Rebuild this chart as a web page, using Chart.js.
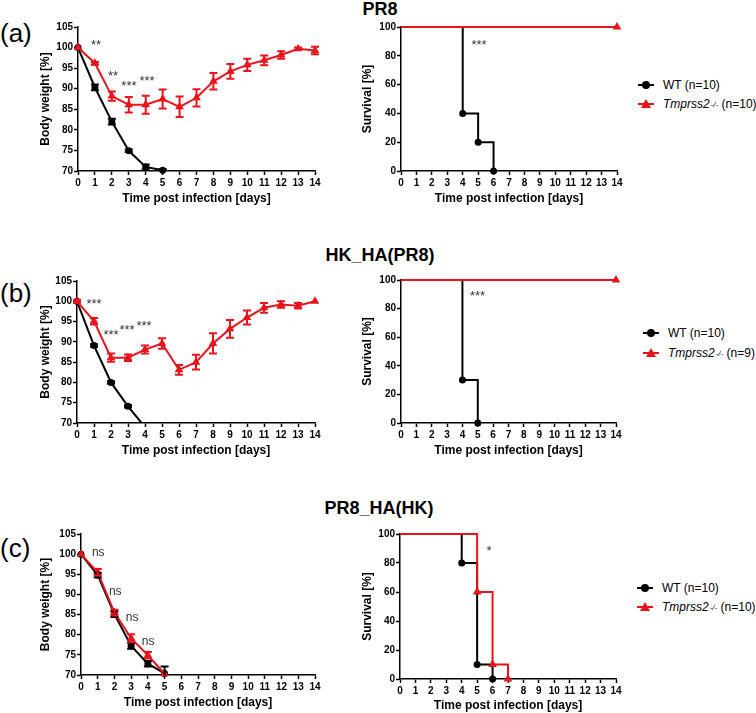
<!DOCTYPE html>
<html><head><meta charset="utf-8">
<script src="https://cdn.jsdelivr.net/npm/chart.js@4.4.1/dist/chart.umd.min.js"></script>
<style>
html,body{margin:0;padding:0;background:#fff;overflow:hidden;width:756px;height:713px;}
canvas{position:absolute;}
.title{position:absolute;font:bold 18px "Liberation Sans",Arial,sans-serif;color:#000;transform:translate(-50%,-50%);white-space:nowrap;}
.panel{position:absolute;left:0;font:26px "Liberation Sans",Arial,sans-serif;color:#000;transform:translateY(-50%);}
.row{position:absolute;display:flex;align-items:center;white-space:nowrap;transform:translateY(-50%);font:12px "Liberation Sans",Arial,sans-serif;color:#000;}
.sym{position:relative;width:16px;height:10px;margin-right:9px;}
.ln{position:absolute;left:0;right:0;top:4px;height:2px;}
.dot{position:absolute;left:4px;top:1px;width:8px;height:8px;border-radius:50%;background:#000;}
.tri{position:absolute;left:3px;top:0;width:0;height:0;border-left:5px solid transparent;border-right:5px solid transparent;border-bottom:9px solid #e8141c;}
sup{font-size:8px;vertical-align:5px;margin-left:1px;}
</style></head>
<body>
<div class="panel" style="top:33px">(a)</div>
<div class="panel" style="top:293px">(b)</div>
<div class="panel" style="top:548px">(c)</div>
<div class="title" style="left:380px;top:9px">PR8</div>
<div class="title" style="left:380px;top:255px">HK_HA(PR8)</div>
<div class="title" style="left:379px;top:508px">PR8_HA(HK)</div>

<canvas id="wA"></canvas><canvas id="sA"></canvas>
<canvas id="wB"></canvas><canvas id="sB"></canvas>
<canvas id="wC"></canvas><canvas id="sC"></canvas>

<div class="row" style="left:638px;top:85px"><span class="sym"><span class="ln" style="background:#000"></span><span class="dot"></span></span>WT (n=10)</div>
<div class="row" style="left:638px;top:104px"><span class="sym"><span class="ln" style="background:#e8141c"></span><span class="tri"></span></span><i>Tmprss2</i><sup><i>-/-</i></sup>&nbsp;(n=10)</div>
<div class="row" style="left:643px;top:333px"><span class="sym"><span class="ln" style="background:#000"></span><span class="dot"></span></span>WT (n=10)</div>
<div class="row" style="left:643px;top:353px"><span class="sym"><span class="ln" style="background:#e8141c"></span><span class="tri"></span></span><i>Tmprss2</i><sup><i>-/-</i></sup>&nbsp;(n=9)</div>
<div class="row" style="left:637px;top:588px"><span class="sym"><span class="ln" style="background:#000"></span><span class="dot"></span></span>WT (n=10)</div>
<div class="row" style="left:637px;top:607px"><span class="sym"><span class="ln" style="background:#e8141c"></span><span class="tri"></span></span><i>Tmprss2</i><sup><i>-/-</i></sup>&nbsp;(n=10)</div>

<script>
// ---------- data ----------
const days = [0,1,2,3,4,5,6,7,8,9,10,11,12,13,14];
const weightTicks = [70,75,80,85,90,95,100,105];
const survivalTicks = [0,20,40,60,80,100];

// (a) PR8
const wtWeightA = [100, 90.3, 82.0, 74.9, 71.0, 70.2];
const wtWeightErrA = [0, 0.7, 0.7, 0.3, 0.6, 0.3];
const koWeightA = [100, 96.2, 88.2, 86.1, 86.1, 87.5, 85.6, 87.8, 91.8, 94.2, 95.8, 96.9, 98.2, 99.7, 99.3];
const koWeightErrA = [0.2, 0.3, 1.1, 1.9, 2.2, 2.3, 2.5, 2.1, 2.0, 1.8, 1.5, 1.2, 0.9, 0.3, 0.9];
const wtSurvDaysA = [0, 4, 5, 6];
const wtSurvA = [100, 40, 20, 0];
const koSurvDaysA = [0, 14];
const koSurvA = [100, 100];
const sigWeightA = ['**', '**', '***', '***'];
const sigSurvA = ['***'];

// (b) HK_HA(PR8)
const wtWeightB = [100, 89.1, 80.0, 74.1, 69.0];
const wtWeightErrB = [0, 0.3, 0.3, 0.3, 0];
const koWeightB = [100, 95.1, 86.1, 86.1, 88.1, 89.6, 83.1, 85.0, 89.6, 93.2, 96.0, 98.4, 99.2, 98.9, 100];
const koWeightErrB = [0.3, 0.8, 1.0, 0.8, 1.0, 1.3, 1.2, 1.8, 2.5, 2.2, 1.7, 1.2, 0.8, 0.7, 0.2];
const wtSurvDaysB = [0, 4, 5];
const wtSurvB = [100, 30, 0];
const koSurvDaysB = [0, 14];
const koSurvB = [100, 100];
const sigWeightB = ['***', '***', '***', '***'];
const sigSurvB = ['***'];

// (c) PR8_HA(HK)
const wtWeightC = [100, 94.8, 85.1, 77.2, 72.8, 70.4];
const wtWeightErrC = [0, 0.6, 0.7, 0.7, 0.7, 1.7];
const koWeightC = [100, 95.5, 85.5, 79.1, 74.9, 70.3];
const koWeightErrC = [0, 0.8, 0.7, 1.0, 0.8, 0];
const wtSurvDaysC = [0, 4, 5, 6];
const wtSurvC = [100, 80, 10, 0];
const koSurvDaysC = [0, 5, 6, 7];
const koSurvC = [100, 60, 10, 0];
const sigWeightC = ['ns', 'ns', 'ns', 'ns'];
const sigSurvC = ['*'];

// ---------- helpers ----------
const RED = '#e8141c', BLK = '#000000';
const FONT = '"Liberation Sans", Arial, sans-serif';
const pts = (xs, ys) => ys.map((v, i) => ({x: xs[i], y: v}));

const errorBars = {
  id: 'errorBars',
  afterDatasetsDraw(chart) {
    const {ctx, chartArea} = chart;
    const ys = chart.scales.y;
    ctx.save();
    ctx.beginPath();
    ctx.rect(chartArea.left - 10, chartArea.top - 10, chartArea.right - chartArea.left + 20, chartArea.bottom - chartArea.top + 10);
    ctx.clip();
    for (let i = chart.data.datasets.length - 1; i >= 0; i--) {
      const ds = chart.data.datasets[i];
      if (!ds.errors) continue;
      const meta = chart.getDatasetMeta(i);
      ctx.strokeStyle = ds.borderColor;
      ctx.lineWidth = 2;
      meta.data.forEach((el, j) => {
        const e = ds.errors[j];
        if (!e || e < 0.25) return;
        const v = ds.data[j].y;
        const x = el.x;
        const yt = ys.getPixelForValue(v + e), yb = ys.getPixelForValue(v - e);
        ctx.beginPath();
        ctx.moveTo(x, yt); ctx.lineTo(x, yb);
        ctx.moveTo(x - 4, yt); ctx.lineTo(x + 4, yt);
        ctx.moveTo(x - 4, yb); ctx.lineTo(x + 4, yb);
        ctx.stroke();
      });
    }
    ctx.restore();
  }
};

function notesPlugin(notes) {
  return {
    id: 'notes',
    afterDraw(chart) {
      const {ctx, scales: {x, y}} = chart;
      ctx.save();
      ctx.fillStyle = '#333';
      ctx.textAlign = 'center';
      ctx.textBaseline = 'middle';
      notes.forEach(n => {
        const star = n.t.indexOf('*') >= 0;
        const size = star ? 13 : 12;
        ctx.font = size + 'px ' + FONT;
        ctx.fillText(n.t, x.getPixelForValue(n.x), y.getPixelForValue(n.y) + (star ? size * 0.25 : 0));
      });
      ctx.restore();
    }
  };
}

function place(id, box) {
  const c = document.getElementById(id);
  c.width = box.w; c.height = box.h;
  c.style.left = box.l + 'px'; c.style.top = box.t + 'px';
  c.style.width = box.w + 'px'; c.style.height = box.h + 'px';
  return c;
}

function scales(o) {
  return {
    x: {
      type: 'linear', min: 0, max: 14,
      afterBuildTicks: s => { s.ticks = days.map(v => ({value: v})); },
      ticks: {autoSkip: false, maxRotation: 0, padding: 2, color: '#000', font: {family: FONT, size: 10, weight: 'bold'}},
      grid: {drawOnChartArea: false, drawTicks: true, tickLength: 4, tickWidth: 1.5, tickColor: '#000'},
      border: {color: '#000', width: 1.5},
      title: {display: true, text: 'Time post infection [days]', color: '#000', font: {family: FONT, size: 12, weight: 'bold'}, padding: {top: 0, bottom: o.xPad}},
      afterFit: s => { s.height = o.xH; }
    },
    y: {
      type: 'linear', min: o.yTicks[0], max: o.yTicks[o.yTicks.length - 1],
      afterBuildTicks: s => { s.ticks = o.yTicks.map(v => ({value: v})); },
      ticks: {autoSkip: false, padding: 1, color: '#000', font: {family: FONT, size: 10, weight: 'bold'}},
      grid: {drawOnChartArea: false, drawTicks: true, tickLength: 4, tickWidth: 1.5, tickColor: '#000'},
      border: {color: '#000', width: 1.5},
      title: {display: true, text: o.yTitle, color: '#000', font: {family: FONT, size: 12, weight: 'bold'}, padding: {top: o.yPad, bottom: 0}},
      afterFit: s => { s.width = o.yW; }
    }
  };
}

function commonOptions(o) {
  return {
    responsive: false, animation: false, devicePixelRatio: 1,
    layout: {padding: {top: 10, right: 15, left: 0, bottom: 0}},
    plugins: {legend: {display: false}, tooltip: {enabled: false}},
    scales: scales(o)
  };
}

function weightChart(id, box, yW, wt, wtErr, ko, koErr, notes) {
  place(id, box);
  new Chart(document.getElementById(id), {
    type: 'line',
    data: {datasets: [
      {data: pts(days, ko), errors: koErr, borderColor: RED, backgroundColor: RED, borderWidth: 2,
       pointStyle: 'triangle', pointRadius: 5, pointBorderWidth: 0, clip: {left: 10, right: 10, top: 10, bottom: 6}},
      {data: pts(days, wt), errors: wtErr, borderColor: BLK, backgroundColor: BLK, borderWidth: 2,
       pointStyle: 'circle', pointRadius: wt.map(v => v < 70 ? 0 : 3.5), pointBorderWidth: 0,
       clip: {left: 10, right: 10, top: 10, bottom: wt[wt.length - 1] < 70 ? 0 : 6}}
    ]},
    options: commonOptions({yTicks: weightTicks, yTitle: 'Body weight [%]', yW: yW, yPad: 8, xH: 38, xPad: 3}),
    plugins: [errorBars, notesPlugin(notes)]
  });
}

function survivalChart(id, box, yW, xH, xPad, wtX, wt, koX, ko, notes) {
  place(id, box);
  new Chart(document.getElementById(id), {
    type: 'line',
    data: {datasets: [
      {data: pts(koX, ko), borderColor: RED, backgroundColor: RED, borderWidth: 2, stepped: 'before',
       pointStyle: 'triangle', pointRadius: ko.map((v, i) => i === 0 ? 0 : 5), pointBorderWidth: 0,
       clip: {left: 10, right: 10, top: 10, bottom: 6}},
      {data: pts(wtX, wt), borderColor: BLK, backgroundColor: BLK, borderWidth: 2, stepped: 'before',
       pointStyle: 'circle', pointRadius: wt.map((v, i) => i === 0 ? 0 : 3.5), pointBorderWidth: 0,
       clip: {left: 10, right: 10, top: 10, bottom: 6}}
    ]},
    options: commonOptions({yTicks: survivalTicks, yTitle: 'Survival [%]', yW: yW, yPad: 5, xH: xH, xPad: xPad}),
    plugins: [notesPlugin(notes)]
  });
}

// ---------- charts ----------
weightChart('wA', {l: 30, t: 17, w: 300, h: 192}, 48, wtWeightA, wtWeightErrA, koWeightA, koWeightErrA, [
  {t: sigWeightA[0], x: 1.06, y: 101.4}, {t: sigWeightA[1], x: 2.07, y: 93.8},
  {t: sigWeightA[2], x: 3.01, y: 91.4}, {t: sigWeightA[3], x: 4.08, y: 92.6}]);
survivalChart('sA', {l: 355, t: 17, w: 277, h: 192}, 46, 38, 3, wtSurvDaysA, wtSurvA, koSurvDaysA, koSurvA, [
  {t: sigSurvA[0], x: 5.06, y: 89.6}]);

weightChart('wB', {l: 30, t: 271, w: 300, h: 190}, 47, wtWeightB, wtWeightErrB, koWeightB, koWeightErrB, [
  {t: sigWeightB[0], x: 1.0, y: 100.1}, {t: sigWeightB[1], x: 2.0, y: 92.5},
  {t: sigWeightB[2], x: 2.94, y: 93.7}, {t: sigWeightB[3], x: 3.94, y: 94.7}]);
survivalChart('sB', {l: 355, t: 270, w: 276, h: 191}, 46, 38, 3, wtSurvDaysB, wtSurvB, koSurvDaysB, koSurvB, [
  {t: sigSurvB[0], x: 4.98, y: 91.1}]);

weightChart('wC', {l: 30, t: 524, w: 300, h: 189}, 51, wtWeightC, wtWeightErrC, koWeightC, koWeightErrC, [
  {t: sigWeightC[0], x: 1.03, y: 100.3}, {t: sigWeightC[1], x: 2.05, y: 90.6},
  {t: sigWeightC[2], x: 3.06, y: 84.2}, {t: sigWeightC[3], x: 4.02, y: 78.2}]);
survivalChart('sC', {l: 355, t: 524, w: 276, h: 189}, 45, 34, 0, wtSurvDaysC, wtSurvC, koSurvDaysC, koSurvC, [
  {t: sigSurvC[0], x: 5.77, y: 90.3}]);
</script>
</body></html>
